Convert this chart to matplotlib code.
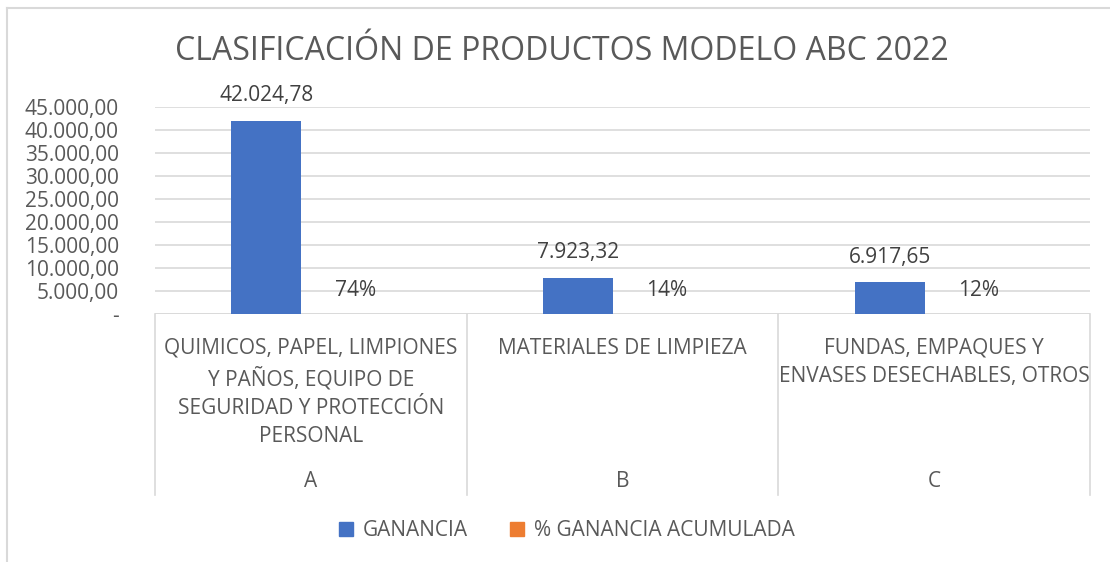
import matplotlib.pyplot as plt
from matplotlib.lines import Line2D
from matplotlib.patches import Patch
import matplotlib.transforms as mtransforms

# chart data
classes = ["A", "B", "C"]
groups = [
    "QUIMICOS, PAPEL, LIMPIONES\nY PAÑOS, EQUIPO DE\nSEGURIDAD Y PROTECCIÓN\nPERSONAL",
    "MATERIALES DE LIMPIEZA",
    "FUNDAS, EMPAQUES Y\nENVASES DESECHABLES, OTROS",
]
ganancia = [42024.78, 7923.32, 6917.65]
pct_acumulada = [0.74, 0.14, 0.12]
y_ticks = [0, 5000, 10000, 15000, 20000, 25000, 30000, 35000, 40000, 45000]

BLUE = "#4472C4"
ORANGE = "#ED7D31"
TEXT = "#595959"
GRID = "#D9D9D9"

plt.rcParams["font.family"] = ["Open Sans", "DejaVu Sans"]


def fmt_es(v):
    """Format a number the Spanish way: 42.024,78"""
    s = f"{v:,.2f}"
    return s.replace(",", "X").replace(".", ",").replace("X", ".")


W, H = 1110, 562
fig = plt.figure(figsize=(W / 100, H / 100), dpi=100)
ax = fig.add_axes([155 / W, 1 - 314 / H, (1090 - 155) / W, (314 - 107) / H])

x = list(range(len(classes)))
bw = 0.225
off = 0.143
bars1 = ax.bar([i - off for i in x], ganancia, width=bw, color=BLUE, zorder=3)
bars2 = ax.bar([i + off for i in x], pct_acumulada, width=bw, color=ORANGE, zorder=3)

for b, v in zip(bars1, ganancia):
    ax.annotate(fmt_es(v), (b.get_x() + b.get_width() / 2, v), xytext=(0, 18),
                textcoords="offset points", ha="center", va="center",
                fontsize=15, color="#404040")
for b, v in zip(bars2, pct_acumulada):
    ax.annotate(f"{v:.0%}", (b.get_x() + b.get_width() / 2, v), xytext=(0, 17),
                textcoords="offset points", ha="center", va="center",
                fontsize=15, color="#404040")

ax.set_xlim(-0.5, len(classes) - 0.5)
ax.set_ylim(0, 45000)
ax.set_yticks(y_ticks)
ax.set_yticklabels(["-"] + [fmt_es(t) for t in y_ticks[1:]])
ax.tick_params(axis="y", length=0, labelsize=15, labelcolor=TEXT, pad=26)
ax.set_xticks([])
for s in ax.spines.values():
    s.set_visible(False)
ax.grid(axis="y", color=GRID, linewidth=1.2, zorder=0)
ax.axhline(0, color=GRID, linewidth=1.2, zorder=2)

# multi-level category axis
trans = mtransforms.blended_transform_factory(ax.transData, ax.transAxes)
for xs in [i - 0.5 for i in range(len(classes) + 1)]:
    ax.add_line(Line2D([xs, xs], [0, -0.874], transform=trans, color=GRID,
                       linewidth=1.2, clip_on=False))
for i, (g, c) in enumerate(zip(groups, classes)):
    ax.text(i, -0.115, g, transform=trans, ha="center", va="top", fontsize=15,
            color=TEXT, linespacing=1.45)
    ax.text(i, -0.81, c, transform=trans, ha="center", va="center",
            fontsize=15, color=TEXT)

fig.text(562 / W, 1 - 52 / H, "CLASIFICACIÓN DE PRODUCTOS MODELO ABC 2022",
         ha="center", va="center", fontsize=23, color=TEXT)

handles = [Patch(color=BLUE, label="GANANCIA"),
           Patch(color=ORANGE, label="% GANANCIA ACUMULADA")]
leg = fig.legend(handles=handles, loc="center", bbox_to_anchor=(567 / W, 1 - 531 / H),
                 ncol=2, frameon=False, fontsize=15, handlelength=0.65,
                 handleheight=0.65, handletextpad=0.5, columnspacing=2.0)
for t in leg.get_texts():
    t.set_color(TEXT)

# chart frame (left and top edges visible)
fig.add_artist(Line2D([7 / W, 7 / W], [0, 1 - 8 / H], color=GRID, linewidth=1.5))
fig.add_artist(Line2D([7 / W, 1], [1 - 8 / H, 1 - 8 / H], color=GRID, linewidth=1.5))

fig.savefig("out.png", dpi=100)
